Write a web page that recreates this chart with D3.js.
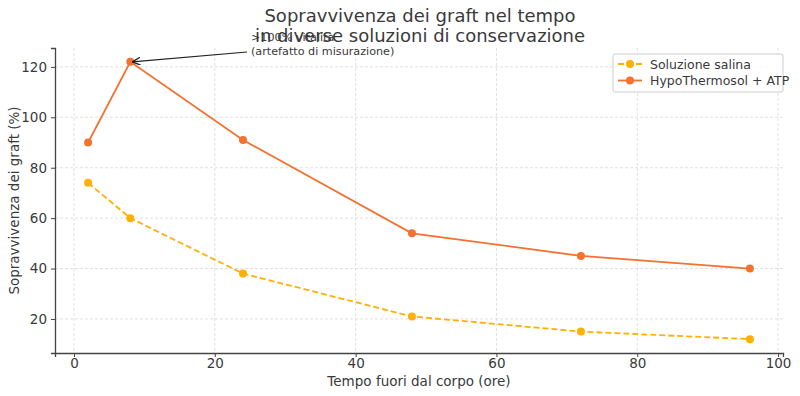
<!DOCTYPE html>
<html>
<head>
<meta charset="utf-8">
<script src="https://cdn.jsdelivr.net/npm/d3@7"></script>
<style>
	body { margin: 0; background: #fff; }
	text { font-family: "DejaVu Sans", sans-serif; fill: #3a3a3a; }
</style>
</head>
<body>
<div id="idChart"></div>
<script>
// data
var aHours = [2, 8, 24, 48, 72, 96];
var aSaline = [74, 60, 38, 21, 15, 12];
var aHypo = [90, 122, 91, 54, 45, 40];
var aXTicks = [0, 20, 40, 60, 80, 100];
var aYTicks = [20, 40, 60, 80, 100, 120];
var aSeries = [
	{sName: "Soluzione salina", aValues: aSaline, sColor: "#ffb000", bDashed: true},
	{sName: "HypoThermosol + ATP", aValues: aHypo, sColor: "#f4712f", bDashed: false}
];

var iWidth = 800;
var iHeight = 396;
var iLeft = 55, iRight = 783, iTop = 48, iBottom = 353;

var mySvg = d3.select("#idChart").append("svg")
	.attr("width", iWidth)
	.attr("height", iHeight);

var xScale = d3.scaleLinear().domain([-2.7, 100.7]).range([iLeft, iRight]);
var yScale = d3.scaleLinear().domain([6.5, 127.5]).range([iBottom, iTop]);

// grid
var myGrid = mySvg.append("g");
myGrid.selectAll(".vgrid").data(aXTicks).enter().append("line")
	.attr("x1", function(d) { return xScale(d); })
	.attr("x2", function(d) { return xScale(d); })
	.attr("y1", iTop).attr("y2", iBottom)
	.attr("stroke", "#d8d8d8").attr("stroke-width", 0.8).attr("stroke-dasharray", "3,2");
myGrid.selectAll(".hgrid").data(aYTicks).enter().append("line")
	.attr("y1", function(d) { return yScale(d); })
	.attr("y2", function(d) { return yScale(d); })
	.attr("x1", iLeft).attr("x2", iRight)
	.attr("stroke", "#d8d8d8").attr("stroke-width", 0.8).attr("stroke-dasharray", "3,2");

// axes
var xAxis = mySvg.append("g")
	.attr("transform", "translate(0," + iBottom + ")")
	.call(d3.axisBottom(xScale).tickValues(aXTicks).tickSizeOuter(0).tickSize(4).tickPadding(1));
var yAxis = mySvg.append("g")
	.attr("transform", "translate(" + iLeft + ",0)")
	.call(d3.axisLeft(yScale).tickValues(aYTicks).tickSizeOuter(0).tickSize(4).tickPadding(4));

[xAxis, yAxis].forEach(function(myAxis) {
	myAxis.select(".domain").attr("stroke", "#444").attr("stroke-width", 1.3);
	myAxis.selectAll(".tick line").attr("stroke", "#444").attr("stroke-width", 1);
	myAxis.selectAll(".tick text").attr("font-size", "13.5px").attr("font-family", "DejaVu Sans").attr("fill", "#3a3a3a");
});

// lines and markers
var myLine = d3.line()
	.x(function(d, i) { return xScale(aHours[i]); })
	.y(function(d) { return yScale(d); });

aSeries.forEach(function(mySeries) {
	mySvg.append("path")
		.attr("d", myLine(mySeries.aValues))
		.attr("fill", "none")
		.attr("stroke", mySeries.sColor)
		.attr("stroke-width", 1.8)
		.attr("stroke-dasharray", mySeries.bDashed ? "6,3" : null);
	mySvg.selectAll(null).data(mySeries.aValues).enter().append("circle")
		.attr("cx", function(d, i) { return xScale(aHours[i]); })
		.attr("cy", function(d) { return yScale(d); })
		.attr("r", 4)
		.attr("fill", mySeries.sColor);
});

// title
mySvg.append("text")
	.attr("x", 420).attr("y", 22)
	.attr("text-anchor", "middle").attr("font-size", "18px")
	.text("Sopravvivenza dei graft nel tempo");
mySvg.append("text")
	.attr("x", 420).attr("y", 42)
	.attr("text-anchor", "middle").attr("font-size", "18px")
	.text("in diverse soluzioni di conservazione");

// annotation (overlaps the title, as in the reference)
mySvg.append("defs").append("marker")
	.attr("id", "idArrow")
	.attr("viewBox", "0 0 10 10")
	.attr("refX", 10).attr("refY", 5)
	.attr("markerWidth", 8).attr("markerHeight", 8)
	.attr("markerUnits", "userSpaceOnUse")
	.attr("orient", "auto")
	.append("path")
		.attr("d", "M0,0 L10,5 L0,10")
		.attr("fill", "none").attr("stroke", "#222").attr("stroke-width", 1.5);
mySvg.append("line")
	.attr("x1", 247).attr("y1", 52)
	.attr("x2", xScale(8) + 2).attr("y2", yScale(122))
	.attr("stroke", "#222").attr("stroke-width", 1.2)
	.attr("marker-end", "url(#idArrow)");
mySvg.append("text")
	.attr("x", 251).attr("y", 41).attr("font-size", "11.2px")
	.text(">100% vitalità");
mySvg.append("text")
	.attr("x", 251).attr("y", 55).attr("font-size", "11.2px")
	.text("(artefatto di misurazione)");

// axis labels
mySvg.append("text")
	.attr("x", (iLeft + iRight) / 2).attr("y", 386)
	.attr("text-anchor", "middle").attr("font-size", "13.5px")
	.text("Tempo fuori dal corpo (ore)");
mySvg.append("text")
	.attr("transform", "translate(19," + ((iTop + iBottom) / 2) + ") rotate(-90)")
	.attr("text-anchor", "middle").attr("font-size", "13.5px")
	.text("Sopravvivenza dei graft (%)");

// legend
var myLegend = mySvg.append("g").attr("transform", "translate(613,54)");
myLegend.append("rect")
	.attr("width", 170).attr("height", 38).attr("rx", 2)
	.attr("fill", "#fff").attr("fill-opacity", 0.8)
	.attr("stroke", "#ccc").attr("stroke-width", 1);
aSeries.forEach(function(mySeries, i) {
	var iY = 10 + i * 16.5;
	myLegend.append("line")
		.attr("x1", 5).attr("x2", 29).attr("y1", iY).attr("y2", iY)
		.attr("stroke", mySeries.sColor).attr("stroke-width", 1.8)
		.attr("stroke-dasharray", mySeries.bDashed ? "6,3" : null);
	myLegend.append("circle")
		.attr("cx", 17).attr("cy", iY).attr("r", 4).attr("fill", mySeries.sColor);
	myLegend.append("text")
		.attr("x", 37).attr("y", iY + 4.5).attr("font-size", "12.5px")
		.text(mySeries.sName);
});
</script>
</body>
</html>
